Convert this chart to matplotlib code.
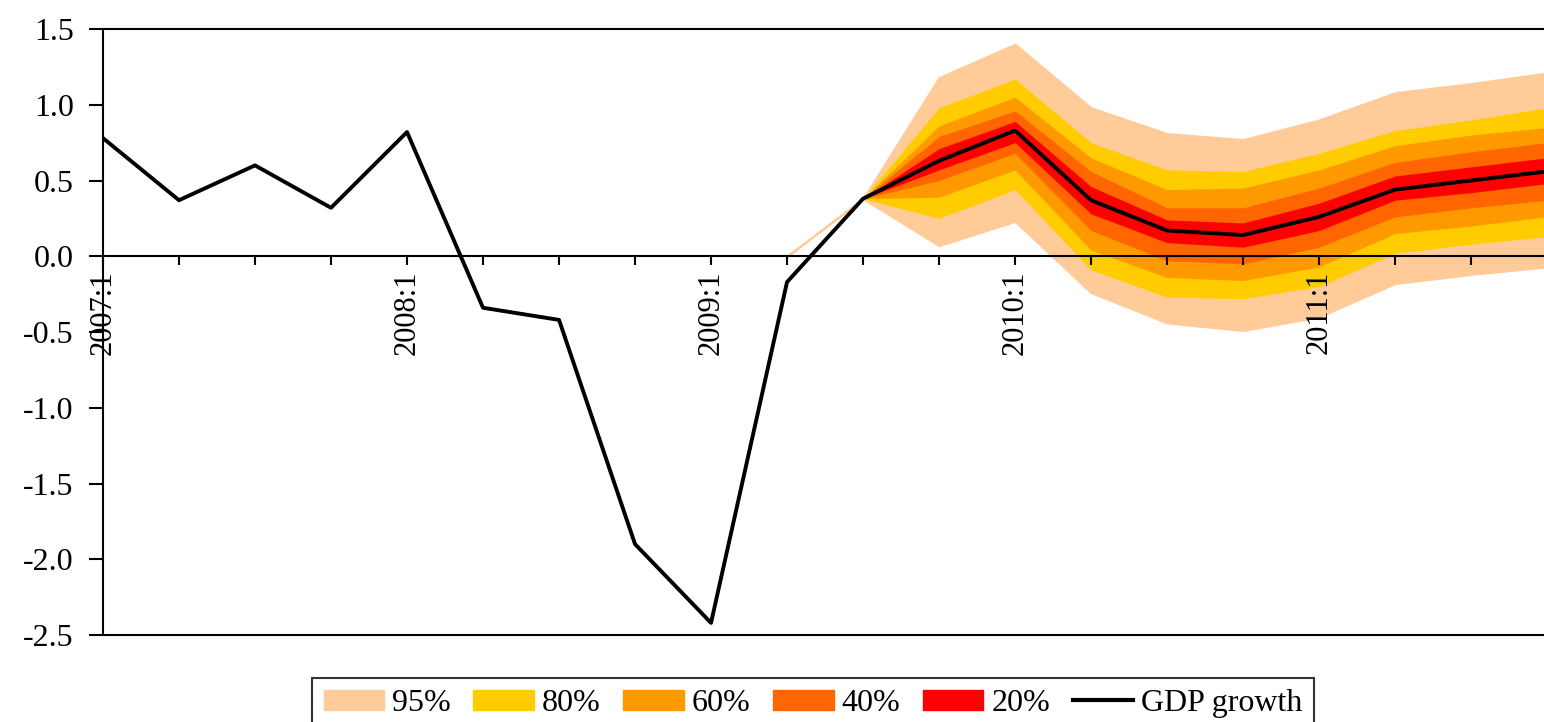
import numpy as np
import matplotlib.pyplot as plt
from matplotlib.patches import Patch
from matplotlib.lines import Line2D

plt.rcParams['font.family'] = ['Liberation Serif', 'DejaVu Serif']

# quarters 2007:1 .. 2011:4
quarters = ['%d:%d' % (y, q) for y in range(2007, 2012) for q in range(1, 5)]

# realised GDP growth, 2007:1 .. 2009:3
gdp_hist = [0.78, 0.37, 0.60, 0.32, 0.82, -0.34, -0.42, -1.90, -2.42, -0.17, 0.38]
# central projection, 2009:3 .. 2011:4
gdp_proj = [0.38, 0.63, 0.83, 0.37, 0.17, 0.14, 0.26, 0.44, 0.50, 0.56]

# fan bands, 2009:2 .. 2011:4
upper95 = [0, 0.38, 1.18, 1.40, 0.98, 0.81, 0.77, 0.90, 1.08, 1.14, 1.21]
upper80 = [0, 0.38, 0.98, 1.17, 0.75, 0.57, 0.56, 0.68, 0.83, 0.90, 0.98]
upper60 = [0, 0.38, 0.86, 1.05, 0.65, 0.44, 0.45, 0.57, 0.73, 0.80, 0.85]
upper40 = [0, 0.38, 0.79, 0.96, 0.56, 0.32, 0.32, 0.45, 0.62, 0.69, 0.75]
upper20 = [0, 0.38, 0.71, 0.89, 0.46, 0.24, 0.22, 0.35, 0.53, 0.59, 0.65]
lower20 = [0, 0.38, 0.57, 0.75, 0.28, 0.09, 0.06, 0.17, 0.37, 0.42, 0.48]
lower40 = [0, 0.38, 0.50, 0.68, 0.17, -0.03, -0.05, 0.06, 0.26, 0.32, 0.37]
lower60 = [0, 0.38, 0.39, 0.57, 0.04, -0.14, -0.16, -0.07, 0.15, 0.20, 0.26]
lower80 = [0, 0.38, 0.25, 0.44, -0.09, -0.27, -0.28, -0.20, 0.02, 0.08, 0.13]
lower95 = [0, 0.38, 0.07, 0.23, -0.24, -0.44, -0.49, -0.40, -0.18, -0.12, -0.07]

band_labels = ['95%', '80%', '60%', '40%', '20%']
band_colors = ['#FFCC99', '#FFCC00', '#FF9900', '#FF6600', '#FF0000']

fig = plt.figure(figsize=(15.44, 7.22), dpi=100)
ax = fig.add_axes([0.0667, 0.1205, 0.9353, 0.8393])

xb = np.arange(9, 9 + len(upper95))
bands = [(lower95, upper95), (lower80, upper80), (lower60, upper60),
         (lower40, upper40), (lower20, upper20)]
for i, ((lo, hi), col) in enumerate(zip(bands, band_colors)):
    lw = 1.5 if i == 0 else 0
    ax.fill_between(xb, lo, hi, facecolor=col, edgecolor=col, linewidth=lw, zorder=1)

gdp_all = gdp_hist + gdp_proj[1:]
ax.plot(np.arange(len(gdp_all)), gdp_all, color='black', lw=2.8, zorder=4)

# x axis sits at zero, frame closed at the bottom
ax.spines['bottom'].set_position(('data', 0))
ax.axhline(-2.5, color='black', lw=1.5, clip_on=False, zorder=3)
for s in ['bottom', 'top', 'left', 'right']:
    ax.spines[s].set_linewidth(1.5)

ax.set_xlim(0, 19)
ax.set_ylim(-2.5, 1.5)
yt = np.arange(-2.5, 1.51, 0.5)
ax.set_yticks(yt)
ax.set_yticklabels(['%.1f' % v for v in yt], fontsize=23)

ax.set_xticks(np.arange(len(quarters)))
ax.set_xticklabels([q if q.endswith(':1') else '' for q in quarters],
                   rotation=90, fontsize=22, va='top', ha='center')

ax.tick_params(axis='y', direction='out', length=10, width=1.5, pad=11)
ax.tick_params(axis='x', direction='out', length=6.5, width=1.5, pad=3.5)

handles = [Patch(facecolor=c, edgecolor=c) for c in band_colors]
handles.append(Line2D([0], [0], color='black', lw=3))
leg = fig.legend(handles, band_labels + ['GDP growth'], loc='upper center',
                 bbox_to_anchor=(0.5266, 0.061), ncol=6, frameon=True, fancybox=False,
                 fontsize=23, handlelength=1.9, handleheight=0.62, handletextpad=0.25,
                 columnspacing=0.7, borderpad=0.35, borderaxespad=0)
leg.get_frame().set_edgecolor('black')
leg.get_frame().set_linewidth(1.5)

fig.savefig('out.png', dpi=100)
